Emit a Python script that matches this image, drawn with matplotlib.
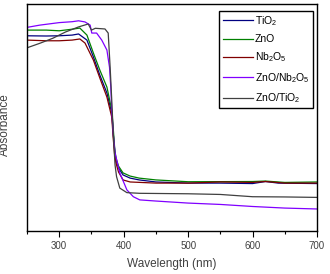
import numpy as np
import matplotlib
matplotlib.use("Agg")
import matplotlib.pyplot as plt
from matplotlib.ticker import MultipleLocator

plt.rcParams['font.family'] = ['Liberation Sans', 'DejaVu Sans']
plt.rcParams['mathtext.default'] = 'regular'

# wavelength (nm) / absorbance (a.u.)
wl_tio2 = [250, 280, 300, 320, 330, 343, 353, 363, 374, 381.5, 384, 386, 388, 392, 399, 410, 424, 450, 500, 550, 600, 620, 640, 700]
ab_tio2 = [0.860, 0.859, 0.860, 0.863, 0.868, 0.841, 0.767, 0.687, 0.608, 0.520, 0.423, 0.357, 0.313, 0.278, 0.247, 0.233, 0.225, 0.216, 0.211, 0.211, 0.209, 0.218, 0.211, 0.209]

wl_zno = [250, 280, 300, 320, 332, 343, 353, 363, 374, 381.5, 384, 386, 388, 392, 399, 410, 424, 450, 500, 600, 620, 650, 700]
ab_zno = [0.885, 0.885, 0.882, 0.889, 0.894, 0.863, 0.784, 0.709, 0.634, 0.533, 0.445, 0.366, 0.322, 0.286, 0.256, 0.242, 0.233, 0.225, 0.217, 0.218, 0.220, 0.214, 0.216]

wl_nb = [250, 280, 300, 320, 332, 340, 353, 363, 374, 381.5, 384, 386, 388, 392, 399, 410, 450, 500, 550, 600, 620, 650, 700]
ab_nb = [0.841, 0.838, 0.838, 0.841, 0.846, 0.828, 0.753, 0.674, 0.590, 0.502, 0.401, 0.335, 0.300, 0.260, 0.225, 0.216, 0.211, 0.211, 0.216, 0.214, 0.218, 0.211, 0.211]

wl_zn_nb = [250, 270, 300, 320, 330, 340, 348, 350.5, 358, 366, 374, 378, 380, 381.5, 384, 386.6, 394, 405, 415, 425, 450, 500, 550, 600, 650, 700]
ab_zn_nb = [0.897, 0.907, 0.918, 0.922, 0.926, 0.921, 0.907, 0.872, 0.872, 0.841, 0.797, 0.722, 0.634, 0.533, 0.423, 0.344, 0.256, 0.181, 0.151, 0.137, 0.132, 0.123, 0.117, 0.108, 0.101, 0.097]

wl_zn_ti = [250, 270, 290, 310, 330, 345, 350, 356, 371, 376, 379, 381.5, 384, 386.6, 389, 394, 405, 425, 500, 550, 600, 650, 700]
ab_zn_ti = [0.807, 0.827, 0.849, 0.877, 0.899, 0.912, 0.885, 0.893, 0.890, 0.872, 0.722, 0.577, 0.423, 0.291, 0.239, 0.189, 0.169, 0.166, 0.164, 0.161, 0.151, 0.150, 0.148]

series = [
    (wl_tio2, ab_tio2, 'TiO$_2$', '#000080'),
    (wl_zno, ab_zno, 'ZnO', '#008000'),
    (wl_nb, ab_nb, 'Nb$_2$O$_5$', '#800000'),
    (wl_zn_nb, ab_zn_nb, 'ZnO/Nb$_2$O$_5$', '#8000ff'),
    (wl_zn_ti, ab_zn_ti, 'ZnO/TiO$_2$', '#404040'),
]

fig = plt.figure(figsize=(3.3, 2.74), dpi=100)
ax = fig.add_axes([27/330, 43/274, 290/330, 227/274])

for x, y, lab, c in series:
    ax.plot(x, y, color=c, lw=0.9, label=lab)

ax.set_xlim(250, 700)
ax.set_ylim(0, 1)
ax.xaxis.set_major_locator(MultipleLocator(100))
ax.xaxis.set_minor_locator(MultipleLocator(50))
ax.tick_params(axis='x', which='major', length=4, width=0.8, labelsize=7, labelcolor='#404040', pad=3)
ax.tick_params(axis='x', which='minor', length=2, width=0.8)
ax.set_yticks([])
for s in ax.spines.values():
    s.set_linewidth(1.0)

ax.set_xlabel('Wavelength (nm)', fontsize=8.5, color='#404040', labelpad=5)
ax.set_ylabel('Absorbance', fontsize=8.5, color='#404040')
ax.yaxis.set_label_coords(-0.055, 0.47)

leg = ax.legend(loc='upper right', bbox_to_anchor=(0.985, 0.97), fontsize=7.5,
                frameon=True, fancybox=False, edgecolor='black', framealpha=1,
                handlelength=2.9, handletextpad=0.2, labelspacing=0.62,
                borderpad=0.3, borderaxespad=0)
leg.get_frame().set_linewidth(1.0)

fig.savefig('out.png', dpi=100)
